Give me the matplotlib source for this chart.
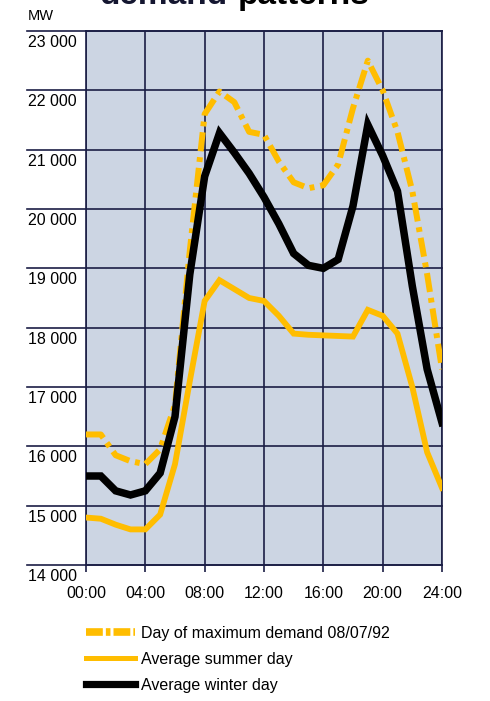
import matplotlib.pyplot as plt
from matplotlib.lines import Line2D

plt.rcParams['font.family'] = ['Liberation Sans', 'DejaVu Sans']

# hours of the day
hours = list(range(0, 25))

# MW
max_day = [16200, 16200, 15850, 15750, 15700, 15950, 16700, 19300, 21600, 21980,
           21800, 21300, 21250, 20800, 20450, 20350, 20400, 20750, 21700, 22500,
           22000, 21300, 20300, 18900, 17300]
summer = [14800, 14780, 14680, 14600, 14600, 14850, 15700, 17100, 18450, 18800,
          18650, 18500, 18450, 18200, 17900, 17880, 17870, 17860, 17850, 18300,
          18200, 17900, 17000, 15900, 15300]
winter = [15500, 15500, 15250, 15180, 15250, 15550, 16500, 18900, 20550, 21280,
          20950, 20600, 20200, 19750, 19250, 19050, 19000, 19150, 20050, 21420,
          20900, 20300, 18700, 17300, 16400]

x_ticks = [0, 4, 8, 12, 16, 20, 24]
x_labels = ['00:00', '04:00', '08:00', '12:00', '16:00', '20:00', '24:00']
y_ticks = [14000, 15000, 16000, 17000, 18000, 19000, 20000, 21000, 22000, 23000]
y_labels = ['14 000', '15 000', '16 000', '17 000', '18 000', '19 000',
            '20 000', '21 000', '22 000', '23 000']

series_labels = ['Day of maximum demand 08/07/92', 'Average summer day',
                 'Average winter day']

navy = '#1b1e45'
yellow = '#ffbd00'
bg = '#ccd5e3'

fig = plt.figure(figsize=(4.9, 7.01), dpi=100)
ax = fig.add_axes([0.1755, 0.194, 0.7265, 0.7618])
ax.set_facecolor(bg)

ax.plot(hours, max_day, color=yellow, lw=4.3, dashes=(3.2, 1.0, 0.8, 1.0),
        solid_capstyle='butt', zorder=3)
ax.plot(hours, summer, color=yellow, lw=4.2, zorder=3, solid_joinstyle='miter')
ax.plot(hours, winter, color='black', lw=5.4, zorder=4, solid_joinstyle='miter')

ax.set_xlim(0, 24)
ax.set_ylim(14000, 23000)
ax.set_xticks(x_ticks)
ax.set_xticklabels(x_labels, fontsize=11.5)
ax.set_yticks([])
ax.tick_params(axis='x', length=5, width=1.2, color=navy, pad=10)
for t in x_ticks:
    ax.axvline(t, color=navy, lw=1.2, zorder=1)
for v, lab in zip(y_ticks, y_labels):
    ax.axhline(v, xmin=-0.166, xmax=1, color=navy, lw=1.2, clip_on=False, zorder=1)
    ax.annotate(lab, xy=(-0.163, v), xycoords=('axes fraction', 'data'),
                xytext=(0, -2.8), textcoords='offset points',
                ha='left', va='top', fontsize=11.5)
for s in ax.spines.values():
    s.set_color(navy)
    s.set_linewidth(1.2)

fig.text(0.057, 1 - 16 / 701, 'MW', fontsize=10.5, ha='left', va='center')
# heading, cut off by the top edge as in the original
fig.text(0.204, 1 - 4 / 701, 'demand', fontsize=24, fontweight='bold',
         color='#141630', ha='left', va='baseline')
fig.text(0.486, 1 - 4 / 701, 'patterns', fontsize=24, fontweight='bold',
         ha='left', va='baseline')

handles = [
    Line2D([], [], color=yellow, lw=5.5, dashes=(2.2, 0.4, 0.6, 0.4)),
    Line2D([], [], color=yellow, lw=3.6),
    Line2D([], [], color='black', lw=5.2),
]
fig.legend(handles, series_labels, loc='upper left',
           bbox_to_anchor=(0.175, 1 - 626 / 701), frameon=False,
           fontsize=11.5, handlelength=3.1, handletextpad=0.35,
           labelspacing=0.68, borderpad=0, borderaxespad=0)

fig.savefig('out.png', dpi=100)
